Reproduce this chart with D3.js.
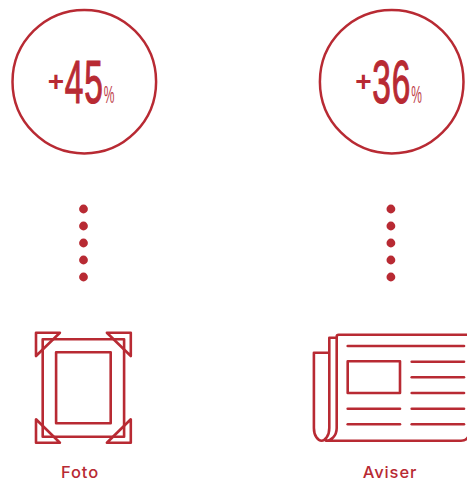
<!DOCTYPE html>
<html>
<head>
<meta charset="utf-8">
<script src="https://cdn.jsdelivr.net/npm/d3@7"></script>
<style>
  html, body { margin: 0; padding: 0; background: #fff; overflow: hidden; }
  svg { display: block; }
  .line { fill: none; stroke: #b82a33; stroke-width: 2.6; stroke-linejoin: round; stroke-linecap: round; }
  text { fill: #b82a33; }
</style>
</head>
<body>
<svg id="chart" width="467" height="480"></svg>
<script>
const categories = ['Foto', 'Aviser'];
const values = [45, 36];
const dotSteps = [0, 1, 2, 3, 4];

const RED = '#b82a33';
const svg = d3.select('#chart');

const x = d3.scaleOrdinal().domain(categories).range([84.3, 391.7]);
const dotY = d3.scalePoint().domain(dotSteps).range([209, 277]);

const drawFoto = (g) => {
  g.append('rect').attr('class', 'line').attr('x', -40.7).attr('y', 339.3).attr('width', 81.4).attr('height', 97.4);
  g.append('rect').attr('class', 'line').attr('x', -27.3).attr('y', 352.3).attr('width', 54.6).attr('height', 71);
  // corner brackets
  g.append('path').attr('class', 'line').attr('d', [
    'M-47.4 332.7H-23.5L-47.4 356Z',
    'M47.4 332.7H23.5L47.4 356Z',
    'M-47.4 442.7H-23.5L-47.4 419.3Z',
    'M47.4 442.7H23.5L47.4 419.3Z',
  ].join(''));
};

const drawAviser = (g) => {
  // icon is laid out in page x, shifted back from the column centre
  const o = -391.7;
  const p = d3.path();
  p.moveTo(470 + o, 334.7);
  p.lineTo(338.7 + o, 334.7);
  p.quadraticCurveTo(336.7 + o, 334.7, 336.7 + o, 336.7);
  p.lineTo(336.7 + o, 428);
  p.bezierCurveTo(336.7 + o, 436, 331 + o, 440.7, 326 + o, 440.7);
  p.lineTo(461 + o, 440.7);
  p.quadraticCurveTo(466 + o, 440.7, 468 + o, 437);
  // inner page, then the folded page as a long U
  p.moveTo(336.7 + o, 337.7);
  p.lineTo(329.3 + o, 337.7);
  p.lineTo(329.3 + o, 428);
  p.bezierCurveTo(329.3 + o, 436, 325 + o, 440.7, 321.6 + o, 440.7);
  p.bezierCurveTo(318 + o, 440.7, 313.9 + o, 436, 313.9 + o, 428);
  p.lineTo(313.9 + o, 352.7);
  p.lineTo(329.3 + o, 352.7);
  g.append('path').attr('class', 'line').attr('d', p.toString());
  g.append('rect').attr('class', 'line').attr('x', 347.7 + o).attr('y', 361.3).attr('width', 52.3).attr('height', 31.7);
  const rules = [
    [347.7, 464, 346],
    [411.7, 464, 361.7],
    [411.7, 464, 377.3],
    [411.7, 464, 393],
    [347.7, 400, 408.7],
    [411.7, 464, 408.7],
    [347.7, 400, 424.3],
    [411.7, 464, 424.3],
  ];
  g.selectAll('line')
    .data(rules)
    .enter()
    .append('line')
    .attr('class', 'line')
    .attr('x1', (d) => d[0] + o)
    .attr('x2', (d) => d[1] + o)
    .attr('y1', (d) => d[2])
    .attr('y2', (d) => d[2]);
};

const labelX = { Foto: 80, Aviser: 390 };
const ICONS = { Foto: drawFoto, Aviser: drawAviser };
const ICON_X = { Foto: 83.4, Aviser: 391.7 };

categories.forEach((c, i) => {
  const cx = x(c);
  const g = svg.append('g').attr('class', 'col');

  g.append('circle')
    .attr('cx', cx).attr('cy', 81.7).attr('r', 71.8)
    .attr('fill', 'none').attr('stroke', RED).attr('stroke-width', 2.5);

  // big number, squeezed because no condensed display face is installed
  g.append('text')
    .attr('transform', `translate(${cx - 19.5},103) scale(0.54,1)`)
    .attr('font-family', '"Liberation Sans", sans-serif')
    .attr('font-size', 62)
    .attr('letter-spacing', 1.5)
    .attr('stroke', RED)
    .attr('stroke-width', 1.2)
    .text(values[i]);

  g.append('text')
    .attr('transform', `translate(${cx - 36.5},90.5)`)
    .attr('font-family', '"Liberation Sans", sans-serif')
    .attr('font-weight', 700)
    .attr('font-size', 28)
    .text('+');

  g.append('text')
    .attr('transform', `translate(${cx + 19.5},103) scale(0.5,1)`)
    .attr('font-family', '"Liberation Sans", sans-serif')
    .attr('font-size', 24)
    .attr('opacity', 0.9)
    .text('%');

  g.selectAll('circle.dot')
    .data(dotSteps)
    .enter()
    .append('circle')
    .attr('class', 'dot')
    .attr('cx', cx - 0.8)
    .attr('cy', (d) => dotY(d))
    .attr('r', 4.4)
    .attr('fill', RED);

  const icon = svg.append('g').attr('transform', `translate(${ICON_X[c]},0)`);
  ICONS[c](icon);

  g.append('text')
    .attr('x', labelX[c])
    .attr('y', 477.5)
    .attr('text-anchor', 'middle')
    .attr('font-family', 'Inter, sans-serif')
    .attr('font-size', 16.5)
    .attr('font-weight', 500)
    .attr('letter-spacing', 0.9)
    .text(c);
});
</script>
</body>
</html>
